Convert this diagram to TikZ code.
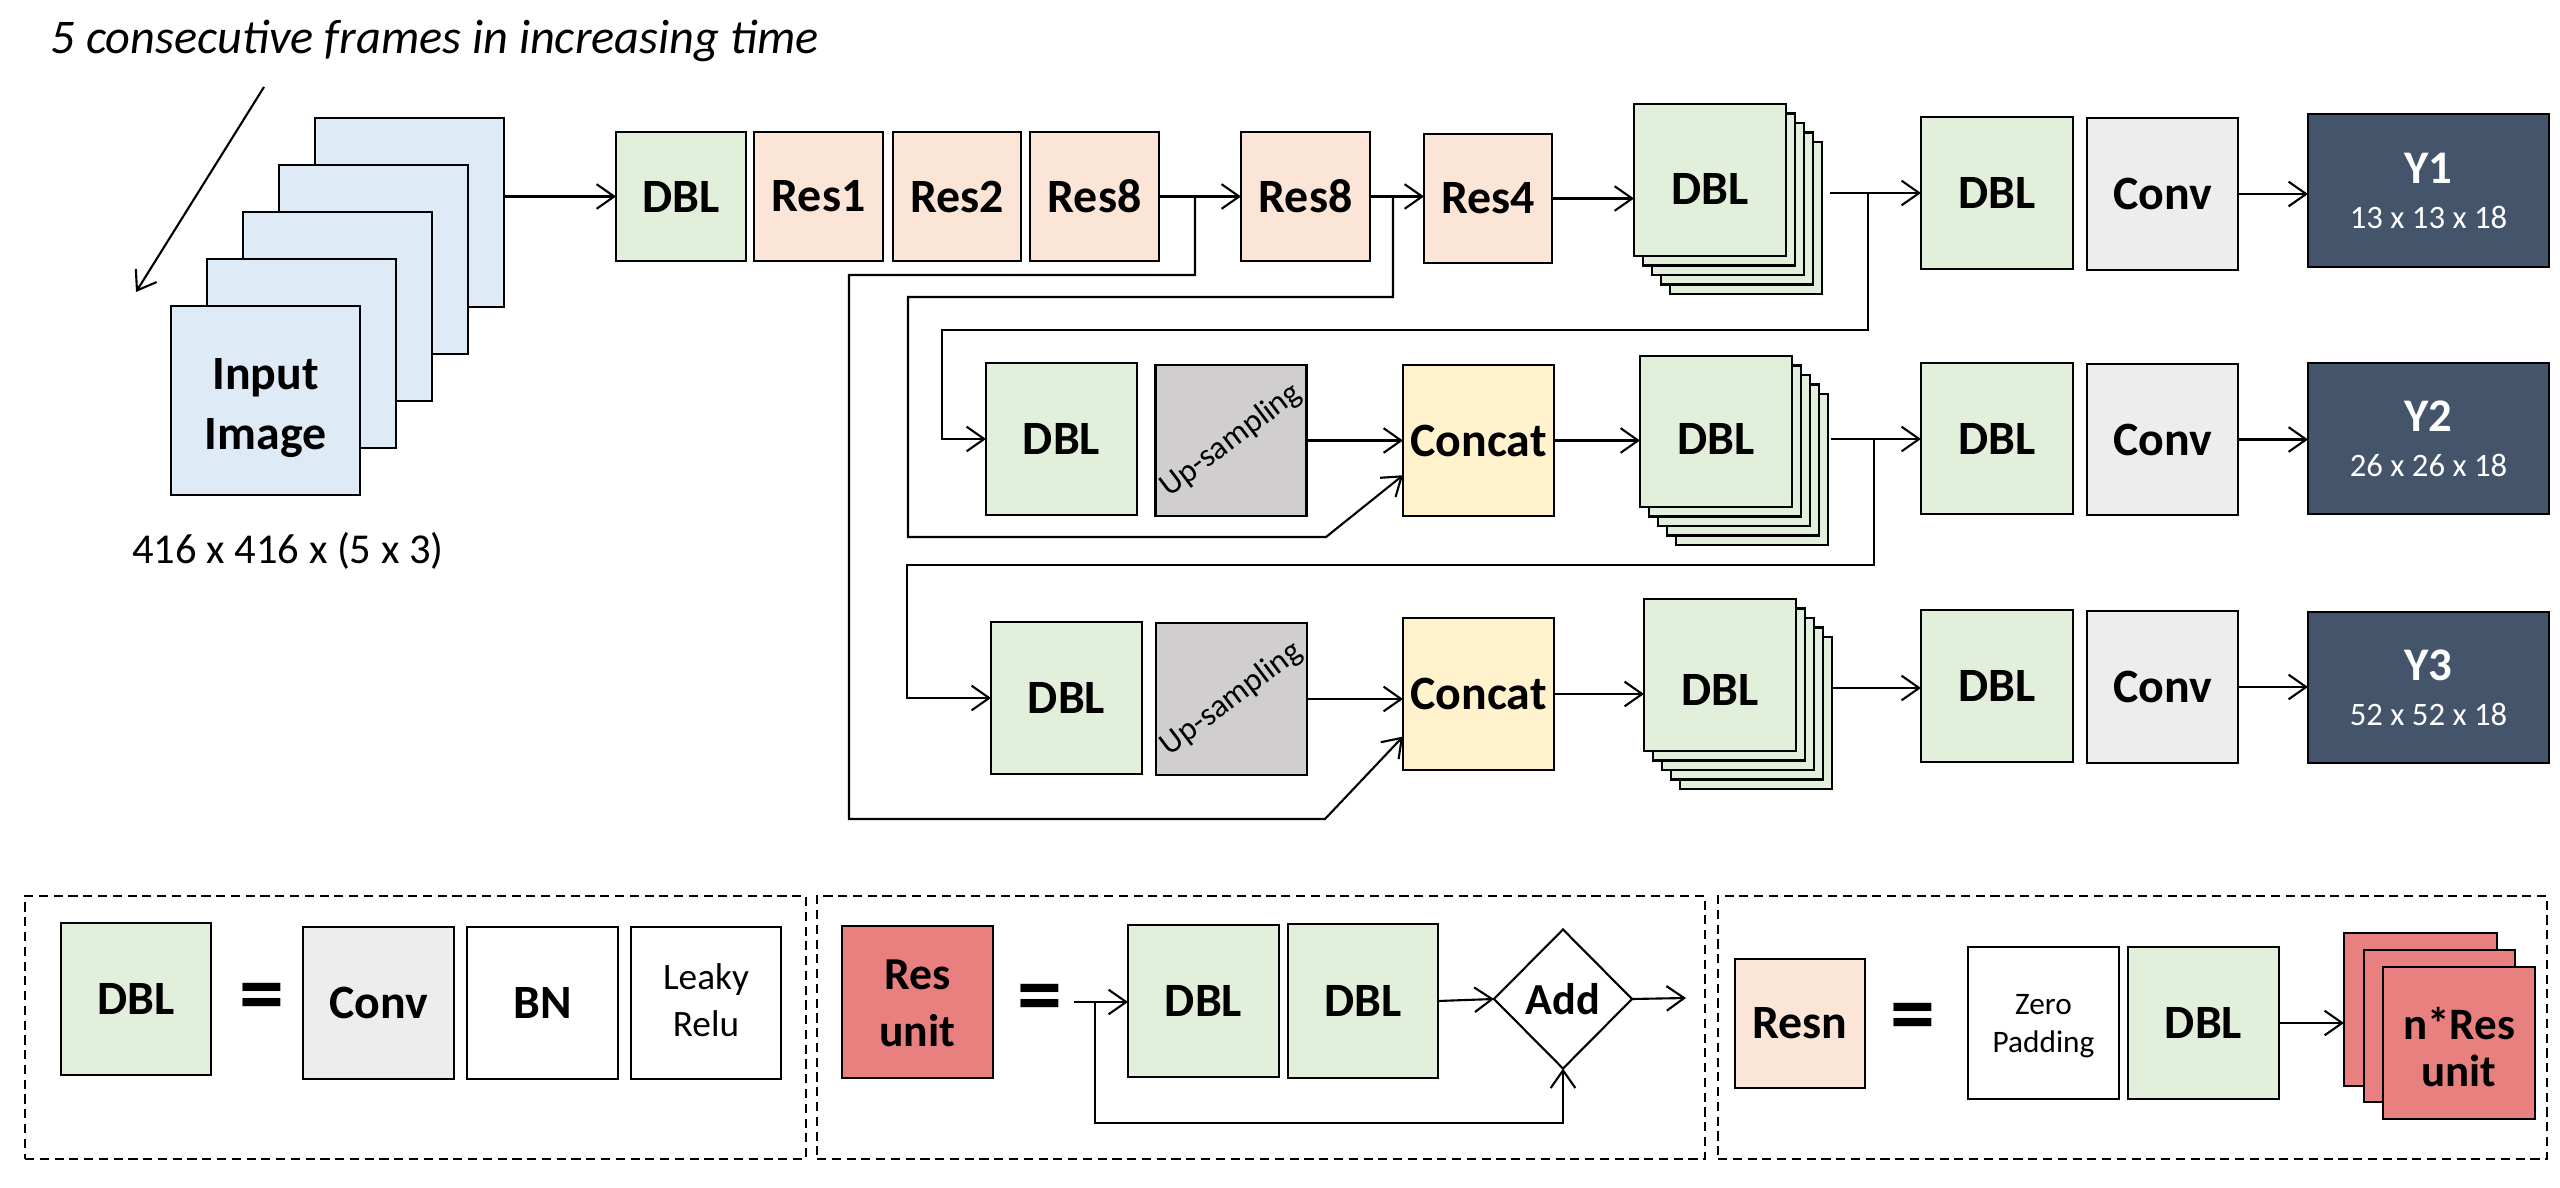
\documentclass[tikz,border=0pt]{standalone}
\usepackage{fontspec}
\setmainfont{Carlito}
\usetikzlibrary{arrows.meta,shapes.geometric,calc}
\definecolor{cDBL}{HTML}{E2EFDA}
\definecolor{cRes}{HTML}{FBE5D6}
\definecolor{cIn}{HTML}{DEEBF7}
\definecolor{cConv}{HTML}{EDEDED}
\definecolor{cUp}{HTML}{D0CECE}
\definecolor{cCat}{HTML}{FFF2CC}
\definecolor{cY}{HTML}{44546A}
\definecolor{cRu}{HTML}{E88080}
\newcommand\fsz[2]{\fontsize{#1}{#2}\selectfont}
\makeatletter
\newcommand\mlt[3]{\raisebox{#1}[0pt][0pt]{\fontsize{\f@size}{#2}\selectfont\begin{tabular}[t]{@{}c@{}}#3\end{tabular}}}
\makeatother
\newcommand\lowr[2]{\raisebox{#1}[0pt][0pt]{#2}}
\newcommand\bx[7]{\node[#2, minimum width={((#5)-(#3))*0.01cm}, minimum height={((#6)-(#4))*0.01cm}] (#1) at ({((#3)+(#5))/2},{((#4)+(#6))/2}) {#7};}
\newcommand\stk[6]{%
 \bx{#1d}{dblc}{(#2)+36}{(#3)+38}{(#4)+36}{(#5)+38}{}
 \bx{#1c}{dblc}{(#2)+27}{(#3)+28.5}{(#4)+27}{(#5)+28.5}{}
 \bx{#1b}{dblc}{(#2)+18}{(#3)+19}{(#4)+18}{(#5)+19}{}
 \bx{#1a}{dblc}{(#2)+9}{(#3)+9.5}{(#4)+9}{(#5)+9.5}{}
 \bx{#1}{dblc}{#2}{#3}{#4}{#5}{#6}}
\tikzset{
 blk/.style={draw=black, line width=0.75pt, inner sep=0pt, outer sep=0pt, align=center, font=\fsz{13.6pt}{17pt}\bfseries},
 dblc/.style={blk, fill=cDBL},
 resc/.style={blk, fill=cRes},
 inc/.style={blk, fill=cIn},
 convc/.style={blk, fill=cConv},
 upc/.style={blk, fill=cUp, font=\fsz{9.3pt}{11pt}},
 catc/.style={blk, fill=cCat},
 ybox/.style={blk, fill=cY, text=white, font=\fsz{13.3pt}{15pt}\bfseries},
 ruc/.style={blk, fill=cRu},
 whc/.style={blk, fill=white},
 dashbox/.style={draw=black, line width=0.8pt, dash pattern=on 2.6pt off 1.6pt, inner sep=0pt, outer sep=0pt},
 conn/.style={line width=0.6pt, -{Straight Barb[length=5pt,width=7pt]}},
 eqs/.style={inner sep=0pt, font=\fsz{25.6pt}{26pt}\bfseries},
}
\begin{document}
\begin{tikzpicture}[x=0.01cm,y=-0.01cm]
\useasboundingbox (0,0) rectangle (2560,1188);
% title
\node[anchor=west, inner sep=0pt, font=\fsz{13.75pt}{16pt}\itshape] (title) at (50,41) {5 consecutive frames in increasing time};
\coordinate (ta) at (264,87);
\coordinate (tb) at (136,292);
\draw[conn] (ta) -- (tb);
% input frames
\bx{f1}{inc}{315}{118}{504}{307}{}
\bx{f2}{inc}{279}{165}{468}{354}{}
\bx{f3}{inc}{243}{212}{432}{401}{}
\bx{f4}{inc}{207}{259}{396}{448}{}
\bx{f5}{inc}{171}{306}{360}{495}{\mlt{3.0pt}{16.9pt}{Input\\Image}}
\node[inner sep=0pt, font=\fsz{12.1pt}{14pt}] (dims) at (288,551) {416 x 416 x (5 x 3)};
% row 1
\bx{dbl1}{dblc}{616}{132}{746}{261}{DBL}
\bx{res1}{resc}{754}{132}{883}{261}{Res1}
\bx{res2}{resc}{893}{132}{1021}{261}{Res2}
\bx{res8a}{resc}{1030}{132}{1159}{261}{Res8}
\bx{res8b}{resc}{1241}{132}{1370}{261}{Res8}
\bx{res4}{resc}{1424}{134}{1552}{263}{Res4}
\stk{s1}{1634}{104}{1786}{256}{\lowr{-7.1pt}{DBL}}
\bx{d1r}{dblc}{1921}{117}{2073}{269}{DBL}
\bx{cv1}{convc}{2087}{118}{2238}{270}{Conv}
\bx{y1}{ybox}{2308}{114}{2549}{267}{\mlt{2.1pt}{12.8pt}{Y1\\{\fsz{9.3pt}{11pt}\mdseries 13 x 13 x 18}}}
% row 2
\bx{d2l}{dblc}{986}{363}{1137}{515}{DBL}
\bx{up2}{upc}{1156}{365}{1306}{516}{\rotatebox{37}{Up-sampling}}
\bx{c2}{catc}{1403}{365}{1554}{516}{Concat}
\stk{s2}{1640}{356}{1792}{507}{\lowr{-6.5pt}{DBL}}
\bx{d2r}{dblc}{1921}{363}{2073}{514}{DBL}
\bx{cv2}{convc}{2087}{364}{2238}{515}{Conv}
\bx{y2}{ybox}{2308}{363}{2549}{514}{\mlt{2.1pt}{12.8pt}{Y2\\{\fsz{9.3pt}{11pt}\mdseries 26 x 26 x 18}}}
% row 3
\bx{d3l}{dblc}{991}{622}{1142}{774}{DBL}
\bx{up3}{upc}{1156}{623}{1307}{775}{\rotatebox{37}{Up-sampling}}
\bx{c3}{catc}{1403}{618}{1554}{770}{Concat}
\stk{s3}{1644}{599}{1796}{751}{\lowr{-8.6pt}{DBL}}
\bx{d3r}{dblc}{1921}{610}{2073}{762}{DBL}
\bx{cv3}{convc}{2087}{611}{2238}{763}{Conv}
\bx{y3}{ybox}{2308}{612}{2549}{763}{\mlt{2.1pt}{12.8pt}{Y3\\{\fsz{9.3pt}{11pt}\mdseries 52 x 52 x 18}}}
% connectors row 1
\draw[conn] (f1.east |- dbl1.west) -- (dbl1.west);
\draw[conn] (res8a.east) -- (res8b.west);
\draw[conn] (res8b.east) -- (res8b.east -| res4.west);
\draw[conn] (res4.east) -- (res4.east -| s1.west);
\coordinate (s1o) at (1830,193);
\draw[conn] (s1o) -- (s1o -| d1r.west);
\draw[conn] (cv1.east) -- (cv1.east -| y1.west);
% row 2
\draw[conn] (up2.east) -- (up2.east -| c2.west);
\draw[conn] (c2.east) -- (c2.east -| s2.west);
\coordinate (s2o) at (1831,439);
\draw[conn] (s2o) -- (s2o -| d2r.west);
\draw[conn] (cv2.east) -- (cv2.east -| y2.west);
% row 3
\draw[conn] (up3.east) -- (up3.east -| c3.west);
\draw[conn] (c3.east) -- (c3.east -| s3.west);
\coordinate (s3o) at (1833,688);
\draw[conn] (s3o) -- (s3o -| d3r.west);
\draw[conn] (cv3.east) -- (cv3.east -| y3.west);
% branches
\coordinate (b1) at (1868,193);
\draw[conn] (b1) |- (942,330) |- (d2l.west);
\coordinate (b2) at (1874,439);
\draw[conn] (b2) |- (907,565) |- (d3l.west);
\coordinate (ba) at (1195,196.5);
\draw[conn] (ba) |- (849,275) |- (1325,819) -- ($(c3.north west)!0.78!(c3.south west)$);
\coordinate (bb) at (1393,198);
\draw[conn] (bb) |- (908,297) |- (1326,537) -- ($(c2.north west)!0.73!(c2.south west)$);
% legend boxes
\bx{lg1}{dashbox}{25}{896}{806}{1159}{}
\bx{lg2}{dashbox}{817}{896}{1705}{1159}{}
\bx{lg3}{dashbox}{1718}{896}{2547}{1159}{}
% legend 1
\bx{ld}{dblc}{61}{923}{211}{1075}{DBL}
\node[eqs] (eq1) at (262,1003) {=};
\bx{lc}{convc}{303}{927}{454}{1079}{Conv}
\bx{lbn}{whc}{467}{927}{618}{1079}{BN}
\bx{llr}{whc, font=\fsz{10.6pt}{13pt}}{631}{927}{781}{1079}{\mlt{3.7pt}{13.1pt}{Leaky\\Relu}}
% legend 2
\bx{ru}{ruc, font=\fsz{13pt}{16pt}\bfseries}{842}{926}{993}{1078}{\mlt{3.6pt}{16.3pt}{Res\\unit}}
\node[eqs] (eq2) at (1040,1004) {=};
\bx{la}{dblc}{1128}{925}{1279}{1077}{DBL}
\bx{lb}{dblc}{1288}{924}{1438}{1078}{DBL}
\node[diamond, draw=black, line width=0.6pt, fill=white, inner sep=0pt, outer sep=0pt, minimum width=1.38cm, minimum height=1.39cm, font=\fsz{12.6pt}{14pt}\bfseries] (add) at (1563,999) {Add};
\coordinate (ri) at (1074,1002);
\draw[conn] (ri) -- (ri -| la.west);
\coordinate (rs) at (1095,1002);
\draw[conn] (rs) -- (1095,1123) -| (add.south);
\draw[conn] (lb.east) -- (add.west);
\coordinate (ao) at (1686,998);
\draw[conn] (add.east) -- (ao);
% legend 3
\bx{rn}{resc}{1735}{959}{1865}{1088}{Resn}
\node[eqs] (eq3) at (1913,1023) {=};
\bx{zp}{whc, font=\fsz{8.9pt}{11pt}}{1968}{947}{2119}{1099}{\mlt{2.5pt}{10.9pt}{Zero\\Padding}}
\bx{l3d}{dblc}{2128}{947}{2279}{1099}{DBL}
\bx{nr1}{ruc}{2344}{933}{2497}{1086}{}
\bx{nr2}{ruc}{2364}{950}{2515}{1102}{}
\bx{nr3}{ruc, font=\fsz{12.8pt}{15pt}\bfseries}{2383}{967}{2535}{1119}{\mlt{1.05pt}{13.5pt}{n*Res\\unit}}
\draw[conn] (l3d.east) -- (l3d.east -| nr1.west);
\end{tikzpicture}
\end{document}
